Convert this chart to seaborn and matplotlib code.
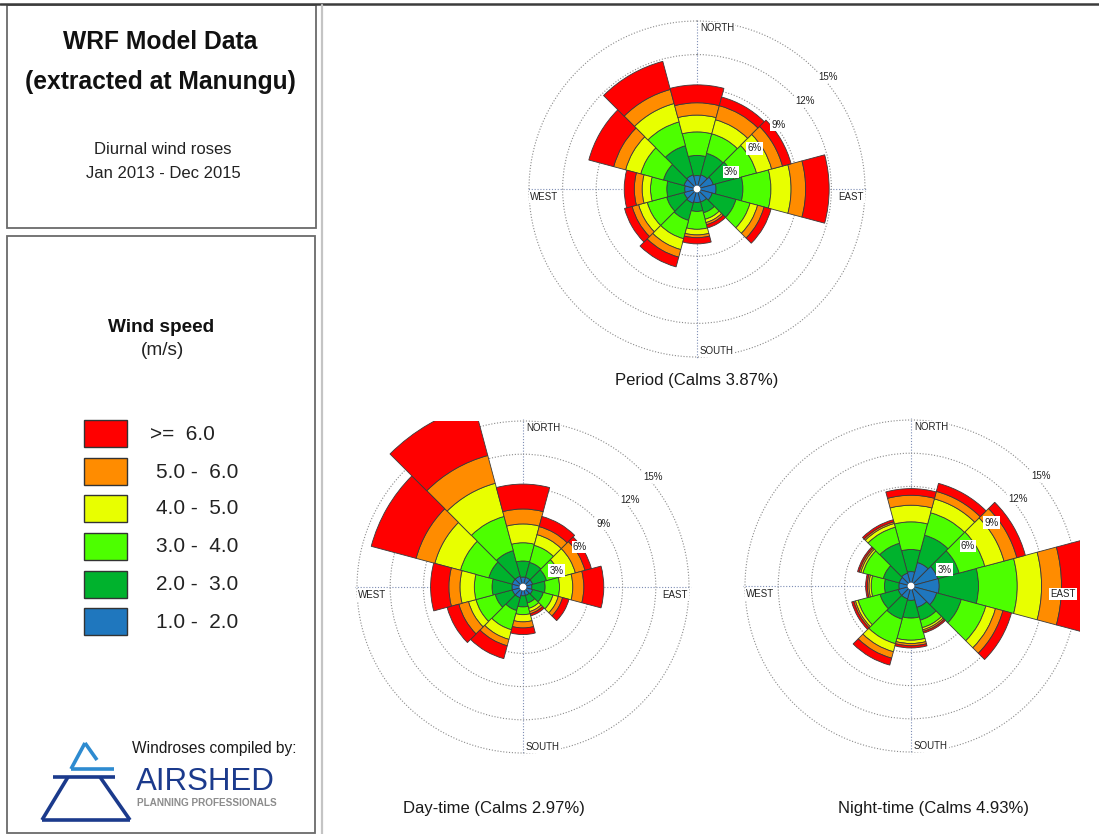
import numpy as np
import matplotlib
matplotlib.use("Agg")
import matplotlib.pyplot as plt
import seaborn as sns
from matplotlib.patches import Rectangle
from matplotlib.lines import Line2D
from matplotlib import font_manager

# ---------------- data ----------------
directions_deg = [0, 30, 60, 90, 120, 150, 180, 210, 240, 270, 300, 330]
speed_classes = ["1.0 -  2.0", "2.0 -  3.0", "3.0 -  4.0", "4.0 -  5.0", "5.0 -  6.0", ">=  6.0"]
speed_colors = ["#1F77BE", "#00B22D", "#4DFF00", "#E8FF00", "#FF8C00", "#FF0000"]

# cumulative frequency (%) up to the top of each speed class, per direction
period_cum = [
    [1.2, 1.3, 1.5, 1.7, 1.4, 1.2, 1.2, 1.3, 1.2, 1.1, 1.2, 1.3],
    [3.0, 3.3, 3.4, 4.1, 3.6, 2.2, 2.0, 2.9, 2.8, 2.7, 3.1, 4.0],
    [5.1, 5.1, 5.5, 6.6, 4.9, 2.8, 3.6, 4.6, 4.6, 4.15, 5.2, 6.2],
    [6.6, 6.4, 6.9, 8.4, 5.6, 3.1, 4.1, 5.6, 5.4, 4.9, 6.6, 7.9],
    [7.7, 7.7, 7.9, 9.7, 6.2, 3.3, 4.35, 6.3, 6.0, 5.6, 7.7, 9.2],
    [9.3, 8.5, 8.7, 11.8, 6.85, 3.6, 4.9, 7.2, 6.7, 6.5, 10.0, 11.8],
]
day_cum = [
    [0.9, 0.9, 0.9, 0.8, 0.9, 0.8, 0.8, 1.0, 1.0, 1.0, 1.0, 1.0],
    [2.35, 2.3, 2.2, 2.0, 1.9, 1.5, 1.8, 2.2, 2.6, 2.8, 3.2, 3.4],
    [4.0, 3.9, 3.5, 3.3, 2.8, 2.0, 2.5, 4.0, 4.4, 4.4, 5.85, 6.6],
    [5.7, 4.9, 4.9, 4.5, 3.3, 2.3, 3.15, 4.9, 5.1, 5.7, 8.25, 9.7],
    [7.05, 5.65, 5.8, 5.5, 3.7, 2.5, 3.7, 5.5, 6.0, 6.7, 10.0, 12.3],
    [9.3, 6.6, 6.4, 7.3, 4.3, 2.7, 4.3, 6.7, 7.1, 8.35, 14.2, 17.0],
]
night_cum = [
    [1.3, 2.2, 2.5, 2.55, 2.4, 2.0, 1.3, 1.2, 1.2, 1.1, 1.1, 1.2],
    [3.3, 4.75, 4.5, 6.1, 4.7, 3.2, 2.9, 3.1, 2.9, 2.4, 2.6, 4.0],
    [5.8, 6.85, 6.9, 9.6, 7.0, 3.9, 4.9, 5.4, 4.95, 3.6, 4.5, 5.5],
    [7.3, 8.15, 8.7, 11.8, 7.9, 4.1, 5.2, 6.15, 5.2, 3.8, 4.7, 5.85],
    [8.2, 8.85, 9.9, 13.6, 8.6, 4.25, 5.4, 6.75, 5.35, 3.95, 4.85, 6.0],
    [8.8, 9.6, 10.7, 16.0, 9.4, 4.4, 5.6, 7.4, 5.55, 4.1, 5.0, 6.2],
]
ring_values = [3, 6, 9, 12, 15]
ring_labels = ["3%", "6%", "9%", "12%", "15%"]
rose_titles = ["Period (Calms 3.87%)", "Day-time (Calms 2.97%)", "Night-time (Calms 4.93%)"]

# ---------------- style ----------------
sns.set_theme(style="white")
plt.rcParams["font.family"] = ["Liberation Sans", "DejaVu Sans"]
names = {f.name for f in font_manager.fontManager.ttflist}
has_narrow = "Liberation Sans Narrow" in names

W, H = 1099, 834
fig = plt.figure(figsize=(W / 100, H / 100), dpi=100, facecolor="white")


def fx(x):
    return x / W


def fy(y):
    return 1 - y / H


# ---------------- frames ----------------
fig.add_artist(Line2D([0, 1], [fy(4), fy(4)], color="#3c3c3c", lw=1.8, transform=fig.transFigure))
fig.add_artist(Rectangle((fx(7), fy(228)), (316 - 7) / W, (228 - 5) / H, fill=False,
                         ec="#6a6a6a", lw=1.3, transform=fig.transFigure))
fig.add_artist(Rectangle((fx(7), fy(833)), (315 - 7) / W, (833 - 236) / H, fill=False,
                         ec="#6a6a6a", lw=1.3, transform=fig.transFigure))
fig.add_artist(Line2D([fx(322), fx(322)], [fy(5), 0], color="#c4c4c4", lw=1.6, transform=fig.transFigure))

# ---------------- left panel text ----------------
fig.text(fx(160), fy(42), "WRF Model Data", ha="center", va="center", fontsize=17.7, fontweight="bold", color="#111111")
fig.text(fx(160), fy(82), "(extracted at Manungu)", ha="center", va="center", fontsize=17.7, fontweight="bold", color="#111111")
fig.text(fx(163), fy(149), "Diurnal wind roses", ha="center", va="center", fontsize=12, color="#222222")
fig.text(fx(163), fy(173), "Jan 2013 - Dec 2015", ha="center", va="center", fontsize=12, color="#222222")
fig.text(fx(161), fy(328), "Wind speed", ha="center", va="center", fontsize=13.7, fontweight="bold", color="#111111")
fig.text(fx(162), fy(350), "(m/s)", ha="center", va="center", fontsize=13.7, color="#222222")

# legend (top to bottom: fastest to slowest)
legend_tops = [420, 458, 495, 533, 571, 608]
for i, k in enumerate(range(5, -1, -1)):
    top = legend_tops[i]
    fig.add_artist(Rectangle((fx(84), fy(top + 27)), 43 / W, 27 / H, fc=speed_colors[k],
                             ec="#333333", lw=1.0, transform=fig.transFigure))
    xlab = 150 if k == 5 else 156
    fig.text(fx(xlab), fy(top + 14), speed_classes[k], ha="left", va="center", fontsize=15, color="#222222")

# logo
logo_light = "#2E8BD0"
logo_navy = "#1B3A8C"
for xs, ys, c in [
    ([85, 71], [743, 769], logo_light),
    ([71, 114], [769, 769], logo_light),
    ([85, 97], [743, 760], logo_light),
    ([53, 115], [777, 777], logo_navy),
    ([68, 42], [777, 820], logo_navy),
    ([42, 130], [820, 820], logo_navy),
    ([130, 100], [820, 777], logo_navy),
]:
    fig.add_artist(Line2D([fx(v) for v in xs], [fy(v) for v in ys], color=c, lw=2.6,
                          solid_capstyle="butt", transform=fig.transFigure))
fig.text(fx(132), fy(749), "Windroses compiled by:", ha="left", va="center", fontsize=11.2, color="#1a1a1a")
if has_narrow:
    fig.text(fx(136), fy(782), "AIRSHED", ha="left", va="center", fontsize=27.5,
             family="Liberation Sans Narrow", color=logo_navy)
else:
    fig.text(fx(136), fy(782), "AIRSHED", ha="left", va="center", fontsize=22.5, color=logo_navy)
fig.text(fx(137), fy(803), "PLANNING PROFESSIONALS", ha="left", va="center", fontsize=7.2,
         fontweight="bold", color="#8c8c8c")


# ---------------- roses ----------------
def draw_rose(cx, cy, R, cum, clip_box, title, title_xy):
    rmax = 15.2
    Ra = R * rmax / 15.0
    ax = fig.add_axes([fx(cx - Ra), fy(cy + Ra), 2 * Ra / W, 2 * Ra / H], projection="polar")
    ax.set_theta_zero_location("N")
    ax.set_theta_direction(-1)
    theta = np.deg2rad(directions_deg)
    x0, y0, x1, y1 = clip_box
    clip = Rectangle((fx(x0), fy(y1)), (x1 - x0) / W, (y1 - y0) / H, transform=fig.transFigure)
    prev = np.zeros(len(directions_deg))
    for k in range(6):
        top = np.asarray(cum[k], dtype=float)
        bars = ax.bar(theta, top - prev, width=np.deg2rad(30), bottom=prev, align="center",
                      color=speed_colors[k], edgecolor="#3a3a3a", linewidth=0.6, zorder=2)
        for b in bars:
            b.set_clip_path(clip)
        prev = top
    ax.scatter([0], [0], s=24, color="white", edgecolors="none", zorder=5)
    ax.set_ylim(0, rmax)
    ax.set_yticks(ring_values)
    ax.set_yticklabels([])
    ax.set_xticks(np.deg2rad([0, 90, 180, 270]))
    ax.set_xticklabels([])
    ax.yaxis.grid(True, color="#8a8a8a", linestyle=(0, (1, 1.6)), linewidth=0.8)
    ax.xaxis.grid(True, color="#7d8db5", linestyle=(0, (1, 1.6)), linewidth=0.8)
    ax.spines["polar"].set_visible(False)
    ax.set_facecolor("none")
    ax.set_axisbelow(True)
    box = dict(boxstyle="square,pad=0.12", fc="white", ec="none")
    for lbl, ang, off, ha in [("NORTH", 0, (3, -7), "left"), ("SOUTH", np.pi, (3, 6), "left"),
                              ("EAST", np.pi / 2, (-1, -8), "right"), ("WEST", 1.5 * np.pi, (1, -8), "left")]:
        ax.annotate(lbl, xy=(ang, 15), xytext=off, textcoords="offset pixels", ha=ha, va="center",
                    fontsize=7, color="#222222", bbox=box, zorder=6, annotation_clip=False)
    for r, lbl in zip(ring_values, ring_labels):
        ax.annotate(lbl, xy=(np.pi / 4, r), xytext=(3, -2), textcoords="offset pixels", ha="left", va="top",
                    fontsize=7, color="#222222", bbox=box, zorder=6, annotation_clip=False)
    fig.text(fx(title_xy[0]), fy(title_xy[1]), title, ha="center", va="center", fontsize=12, color="#1a1a1a")


draw_rose(697, 189, 168, period_cum, (323, 6, 1081, 410), rose_titles[0], (697, 380))
draw_rose(523, 587, 166, day_cum, (323, 421, 717, 834), rose_titles[1], (494, 808))
draw_rose(911, 586, 166, night_cum, (717, 421, 1080, 834), rose_titles[2], (933, 808))

fig.savefig("out.png", dpi=100, facecolor="white")
